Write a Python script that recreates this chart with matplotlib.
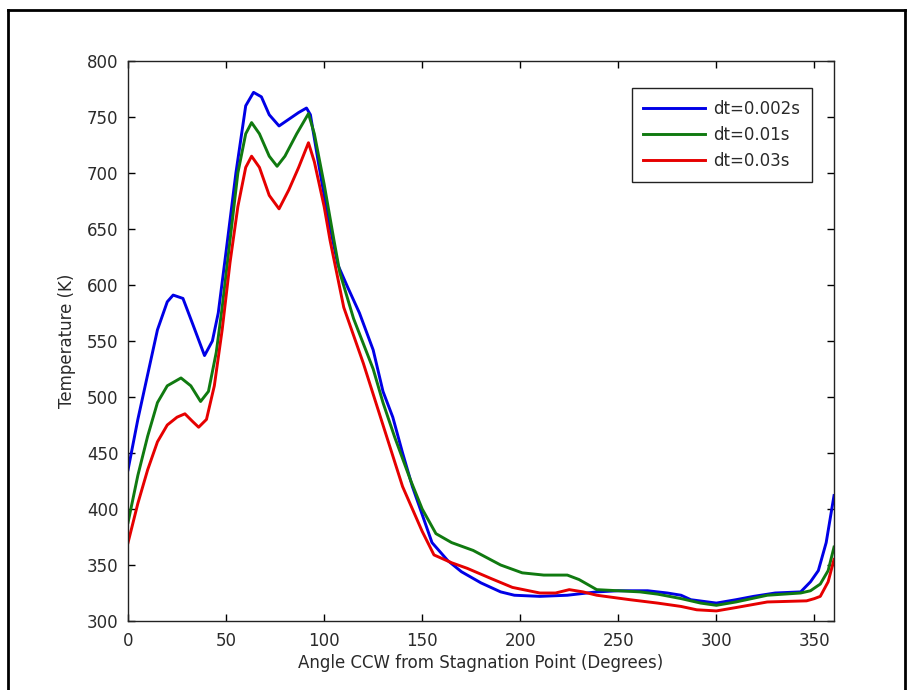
import matplotlib
matplotlib.use("Agg")
import matplotlib.pyplot as plt
from matplotlib.lines import Line2D

plt.rcParams["font.family"] = ["DejaVu Sans"]

# angle (deg) / temperature (K)
angle_a = [0, 5, 10, 15, 20, 23, 28, 33, 39, 43, 46, 50, 55, 60, 64, 68, 72, 77,
           82, 87, 91, 93, 97, 102, 107, 112, 118, 125, 130, 135, 140, 145, 150,
           155, 163, 170, 180, 190, 197, 210, 224, 239, 250, 265, 275, 282, 287,
           300, 310, 319, 330, 343, 348, 352, 356, 360]
temp_a = [435, 480, 520, 560, 585, 591, 588, 565, 537, 550, 575, 630, 700, 760,
          772, 768, 752, 742, 748, 754, 758, 752, 710, 660, 618, 598, 575, 542,
          505, 482, 450, 420, 395, 370, 354, 344, 334, 326, 323, 322, 323, 326,
          327, 327, 325, 323, 319, 316, 319, 322, 325, 326, 335, 345, 370, 412]

angle_b = [0, 5, 10, 15, 20, 27, 32, 37, 41, 45, 48, 52, 56, 60, 63, 67, 72, 76,
           80, 86, 92, 95, 100, 105, 108, 115, 125, 130, 136, 144, 150, 157, 165,
           176, 190, 201, 212, 224, 230, 239, 250, 261, 270, 282, 292, 300, 310,
           326, 343, 348, 353, 357, 360]
temp_b = [388, 430, 465, 495, 510, 517, 510, 496, 505, 540, 580, 640, 700, 735,
          745, 735, 715, 706, 715, 735, 753, 735, 690, 640, 611, 570, 525, 495,
          464, 426, 400, 378, 370, 363, 350, 343, 341, 341, 337, 328, 327, 326,
          324, 320, 316, 314, 317, 323, 325, 327, 333, 345, 366]

angle_c = [0, 5, 10, 15, 20, 25, 29, 33, 36, 40, 44, 48, 52, 56, 60, 63, 67, 72,
           77, 82, 87, 92, 95, 100, 103, 110, 120, 132, 140, 150, 156, 165, 173,
           185, 196, 210, 218, 225, 232, 239, 256, 270, 282, 290, 300, 310, 326,
           346, 350, 353, 357, 360]
temp_c = [370, 405, 435, 460, 475, 482, 485, 478, 473, 480, 510, 560, 620, 670,
          705, 715, 705, 680, 668, 685, 705, 727, 710, 670, 640, 580, 530, 464,
          420, 380, 359, 352, 347, 338, 330, 325, 325, 328, 326, 323, 319, 316,
          313, 310, 309, 312, 317, 318, 320, 322, 335, 355]

labels = ["dt=0.002s", "dt=0.01s", "dt=0.03s"]
colors = ["#0000e6", "#107a10", "#e60000"]

fig = plt.figure(figsize=(9.12, 6.9), dpi=100)
fig.patch.set_facecolor("white")
ax = fig.add_axes([0.1404, 0.100, 0.7741, 0.8116])

for xs, ys, lab, col in zip([angle_a, angle_b, angle_c],
                            [temp_a, temp_b, temp_c], labels, colors):
    ax.plot(xs, ys, color=col, linewidth=2.1, label=lab)

ax.set_xlim(0, 360)
ax.set_ylim(300, 800)
ax.set_xticks(range(0, 351, 50))
ax.set_yticks(range(300, 801, 50))
ax.tick_params(direction="in", top=True, right=True, length=5, width=1,
               labelsize=12, labelcolor="#2a2a2a")
ax.tick_params(axis="x", pad=8)
ax.tick_params(axis="y", pad=7)
for spine in ax.spines.values():
    spine.set_linewidth(1.0)
    spine.set_color("#222222")

ax.set_xlabel("Angle CCW from Stagnation Point (Degrees)", fontsize=12,
              labelpad=3, color="#2a2a2a")
ax.set_ylabel("Temperature (K)", fontsize=12, labelpad=8, color="#2a2a2a")

leg = ax.legend(loc="upper right", bbox_to_anchor=(0.969, 0.952),
                fontsize=12, handlelength=3.7, handletextpad=0.5,
                labelspacing=0.5, borderpad=0.7, fancybox=False,
                framealpha=1, edgecolor="#222222", borderaxespad=0)
leg.get_frame().set_linewidth(1.0)
for t in leg.get_texts():
    t.set_color("#2a2a2a")

# outer frame around the figure
H = 690.0
W = 912.0
for xs, ys in [([8 / W, 905 / W], [1 - 10 / H, 1 - 10 / H]),
               ([8 / W, 8 / W], [0, 1 - 10 / H]),
               ([905 / W, 905 / W], [0, 1 - 10 / H])]:
    fig.add_artist(Line2D(xs, ys, transform=fig.transFigure,
                          color="black", linewidth=2))

fig.savefig("out.png", dpi=100)
